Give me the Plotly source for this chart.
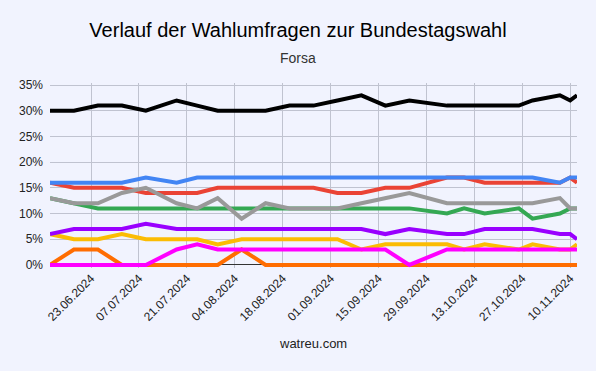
import plotly.graph_objects as go

dates = ["2024-06-11", "2024-06-18", "2024-06-25", "2024-07-02", "2024-07-09",
         "2024-07-18", "2024-07-24", "2024-07-30", "2024-08-06", "2024-08-13",
         "2024-08-20", "2024-08-27", "2024-09-03", "2024-09-10", "2024-09-17",
         "2024-09-24", "2024-10-05", "2024-10-10", "2024-10-16", "2024-10-26",
         "2024-10-30", "2024-11-07", "2024-11-10", "2024-11-12"]

black = [30, 30, 31, 31, 30, 32, 31, 30, 30, 30, 31, 31, 32, 33, 31, 32, 31, 31, 31, 31, 32, 33, 32, 33]
blue = [16, 16, 16, 16, 17, 16, 17, 17, 17, 17, 17, 17, 17, 17, 17, 17, 17, 17, 17, 17, 17, 16, 17, 17]
red = [16, 15, 15, 15, 14, 14, 14, 15, 15, 15, 15, 15, 14, 14, 15, 15, 17, 17, 16, 16, 16, 16, 17, 16]
gray = [13, 12, 12, 14, 15, 12, 11, 13, 9, 12, 11, 11, 11, 12, 13, 14, 12, 12, 12, 12, 12, 13, 11, 11]
green = [13, 12, 11, 11, 11, 11, 11, 11, 11, 11, 11, 11, 11, 11, 11, 11, 10, 11, 10, 11, 9, 10, 11, 11]
purple = [6, 7, 7, 7, 8, 7, 7, 7, 7, 7, 7, 7, 7, 7, 6, 7, 6, 6, 7, 7, 7, 6, 6, 5]
yellow = [6, 5, 5, 6, 5, 5, 5, 4, 5, 5, 5, 5, 5, 3, 4, 4, 4, 3, 4, 3, 4, 3, 3, 4]
magenta = [0, 0, 0, 0, 0, 3, 4, 3, 3, 3, 3, 3, 3, 3, 3, 0, 3, 3, 3, 3, 3, 3, 3, 3]
orange = [0, 3, 3, 0, 0, 0, 0, 0, 3, 0, 0, 0, 0, 0, 0, 0, 0, 0, 0, 0, 0, 0, 0, 0]

tick_dates = ["2024-06-23", "2024-07-07", "2024-07-21", "2024-08-04", "2024-08-18",
              "2024-09-01", "2024-09-15", "2024-09-29", "2024-10-13", "2024-10-27",
              "2024-11-10"]
tick_text = ["23.06.2024", "07.07.2024", "21.07.2024", "04.08.2024", "18.08.2024",
             "01.09.2024", "15.09.2024", "29.09.2024", "13.10.2024", "27.10.2024",
             "10.11.2024"]
y_ticks = [0, 5, 10, 15, 20, 25, 30, 35]
y_text = ["0%", "5%", "10%", "15%", "20%", "25%", "30%", "35%"]

series = [
    (orange, "#FF6D01"),
    (red, "#EA4335"),
    (blue, "#4285F4"),
    (green, "#34A853"),
    (gray, "#999999"),
    (yellow, "#FBBC04"),
    (purple, "#9900FF"),
    (magenta, "#FF00FF"),
    (black, "#000000"),
]

fig = go.Figure()
for vals, col in series:
    fig.add_trace(go.Scatter(x=dates, y=vals, mode="lines",
                             line=dict(color=col, width=4), showlegend=False,
                             hoverinfo="skip"))

W, H = 596, 371
L, R = 50, 19
T, B = 83, 103
plot_bottom = H - B
plot_h = H - T - B
plot_w = W - L - R


def py(pix):
    return (plot_bottom - pix) / plot_h


def px(pix):
    return (pix - L) / plot_w


bg = "#F1F3FE"
font = "Liberation Sans, Arial, sans-serif"
fig.update_layout(
    width=W, height=H,
    margin=dict(l=L, r=R, t=T, b=B),
    paper_bgcolor=bg, plot_bgcolor=bg,
    font=dict(family=font, size=12, color="#222222"),
    title=dict(text="Verlauf der Wahlumfragen zur Bundestagswahl",
               x=0.5, xanchor="center", y=1 - 30 / H, yanchor="middle",
               font=dict(size=20, color="#000000", family=font)),
    xaxis=dict(range=[dates[0], dates[-1]], tickvals=tick_dates, ticktext=tick_text,
               tickangle=-45, showgrid=True, gridcolor="#C0C3D0", gridwidth=1,
               zeroline=False, showline=False, ticks="",
               tickfont=dict(size=12, color="#222222")),
    yaxis=dict(range=[-0.6, 35.4], tickvals=y_ticks, ticktext=y_text,
               showgrid=True, gridcolor="#C0C3D0", gridwidth=1,
               zeroline=True, zerolinecolor="#333333", zerolinewidth=1,
               showline=False, ticks="", ticklabelstandoff=6,
               tickfont=dict(size=12, color="#222222")),
    annotations=[
        dict(text="Forsa", x=px(298), xref="paper", y=py(58), yref="paper",
             xanchor="center", yanchor="middle", showarrow=False,
             font=dict(size=14, color="#333333")),
        dict(text="watreu.com", x=px(313), xref="paper", y=py(343), yref="paper",
             xanchor="center", yanchor="middle", showarrow=False,
             font=dict(size=13, color="#222222")),
    ],
)

fig.write_html("out.html", config={"displayModeBar": False},
               post_script="document.body.style.margin='0';document.body.style.overflow='hidden';document.body.style.background='" + bg + "';")
